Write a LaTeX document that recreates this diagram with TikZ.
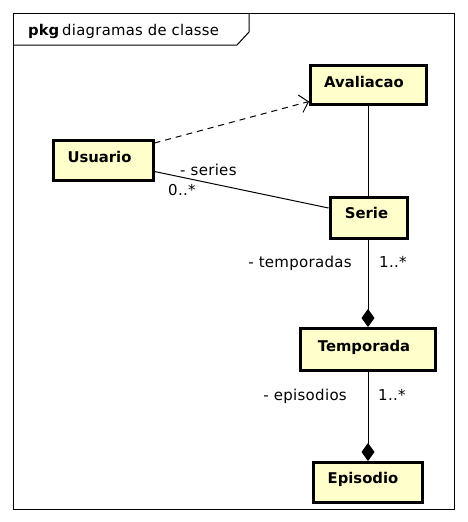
\documentclass[tikz,border=0pt]{standalone}
\usepackage{fontspec}
\setmainfont{DejaVu Sans}[LetterSpace=2]
\newfontfamily\boldf{DejaVu Sans Bold}
\usetikzlibrary{arrows.meta}
\definecolor{classfill}{HTML}{FFFFCC}
\tikzset{
  cls/.style={draw=black, line width=3pt, fill=classfill, inner sep=0pt},
  clsname/.style={font=\boldf\fontsize{14.8}{16}\selectfont, anchor=base, inner sep=0pt},
  lbl/.style={font=\fontsize{15}{16}\selectfont, inner sep=0pt},
  assoc/.style={draw=black, line width=1pt},
  comp/.style={draw=black, line width=1pt, {Diamond[width=13pt,length=18pt,fill=black]}-},
  dep/.style={draw=black, line width=1pt, dash pattern=on 6pt off 5pt, -{Straight Barb[length=8pt,width=18pt,line width=1pt]}},
}
\begin{document}
\begin{tikzpicture}[x=1pt,y=-1pt]
\useasboundingbox (0,0) rectangle (468,522);
% frame
\draw[line width=1pt] (13,13) rectangle (454,509);
\draw[line width=1pt] (13,45) -- (237,45) -- (249,32) -- (249,13);
\node[anchor=base west, inner sep=0pt] (title) at (28,35) {{\boldf\fontsize{14.8}{16}\selectfont pkg}\hspace{3pt}\fontsize{14.8}{16}\selectfont diagramas de classe};
% classes
\path[cls] (310,65) rectangle (426,104);
\node[clsname] (avt) at (364,87) {Avaliacao};
\path[cls] (53,140) rectangle (153,180);
\node[clsname] (ust) at (99.5,162) {Usuario};
\path[cls] (330,197) rectangle (407,238);
\node[clsname] (set) at (366.5,218) {Serie};
\path[cls] (300,328) rectangle (435,370);
\node[clsname] (tet) at (364,351) {Temporada};
\path[cls] (313,462) rectangle (422,502);
\node[clsname] (ept) at (363,483) {Episodio};
% named anchor points
\coordinate (avB) at (368,104);
\coordinate (avL) at (309,101.5);
\coordinate (usR1) at (154.5,143);
\coordinate (usR2) at (154.5,171.5);
\coordinate (seL) at (328.5,208);
\coordinate (seT) at (368,196);
\coordinate (seB) at (368,239);
\coordinate (teT) at (368,327);
\coordinate (teB) at (368,371);
\coordinate (epT) at (368,461);
% connectors
\draw[dep] (usR1) -- (avL);
\draw[assoc] (usR2) -- (seL);
\draw[assoc] (avB) -- (seT);
\draw[comp] (teT) -- (seB);
\draw[comp] (epT) -- (teB);
% labels
\node[lbl, anchor=base west] (l1) at (180,175) {- series};
\node[lbl, anchor=base west] (l2) at (168,195) {0..*};
\node[lbl, anchor=base east] (l3) at (352,267) {- temporadas};
\node[lbl, anchor=base west] (l4) at (379,267) {1..*};
\node[lbl, anchor=base east] (l5) at (347,400) {- episodios};
\node[lbl, anchor=base west] (l6) at (378,400) {1..*};
\end{tikzpicture}
\end{document}
